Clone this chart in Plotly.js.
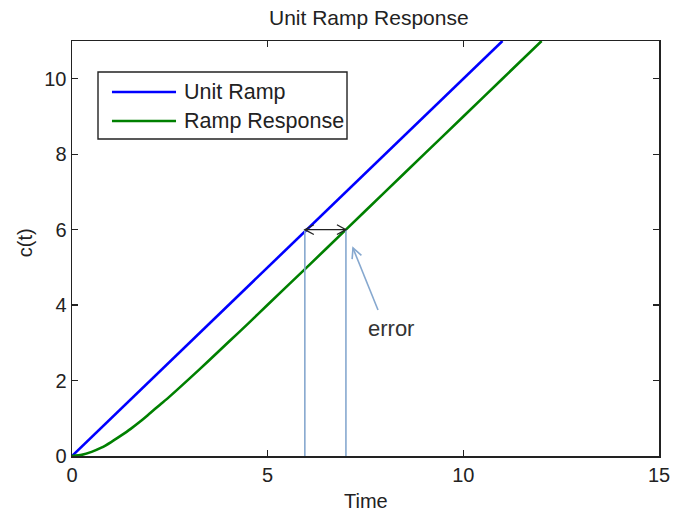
<!DOCTYPE html>
<html>
<head>
<meta charset="utf-8">
<script src="https://cdn.plot.ly/plotly-3.0.1.min.js"></script>
<style>
  html, body { margin: 0; padding: 0; background: #fff; }
  #chart { width: 673px; height: 515px; }
</style>
</head>
<body>
<div id="chart"></div>
<script>
// Unit ramp input r(t) = t
const rampTime = [0, 1, 2, 3, 4, 5, 6, 7, 8, 9, 10, 11];
const rampValue = [0, 1, 2, 3, 4, 5, 6, 7, 8, 9, 10, 11];

// Ramp response of the first-order system (lags the input by one time unit)
const respTime = [0, 0.25, 0.5, 0.75, 1, 1.25, 1.5, 1.75, 2, 2.25, 2.5, 3, 3.5, 4, 4.5, 5, 6, 7, 8, 9, 10, 11, 12];
const respValue = [0, 0.03, 0.11, 0.22, 0.37, 0.54, 0.72, 0.92, 1.14, 1.36, 1.58, 2.05, 2.53, 3.02, 3.51, 4.01, 5.0, 6.0, 7.0, 8.0, 9.0, 10.0, 11.0];

// Steady-state error marker: the two curves reach c = 6 at these times
const errorLevel = 6;
const errorTimes = [5.95, 7.0];

const seriesNames = ['Unit Ramp', 'Ramp Response'];
const seriesColors = ['#0000ff', '#008000'];

const FONT = 'Liberation Sans, Arial, Helvetica, sans-serif';
const guideColor = '#86a8cf';

const traces = [
  { x: rampTime, y: rampValue, name: seriesNames[0], mode: 'lines',
    line: { color: seriesColors[0], width: 2.6 }, hoverinfo: 'skip' },
  { x: respTime, y: respValue, name: seriesNames[1], mode: 'lines',
    line: { color: seriesColors[1], width: 2.6, shape: 'spline', smoothing: 0.6 }, hoverinfo: 'skip' }
];

const shapes = [];
// vertical guides dropped from each curve at the error level
errorTimes.forEach(t => {
  shapes.push({ type: 'line', xref: 'x', yref: 'y', x0: t, x1: t, y0: 0, y1: errorLevel,
    line: { color: guideColor, width: 1.6 } });
});
// double-headed horizontal arrow between the curves
const [tA, tB] = errorTimes;
shapes.push({ type: 'line', xref: 'x', yref: 'y', x0: tA, x1: tB, y0: errorLevel, y1: errorLevel,
  line: { color: '#222', width: 1.3 } });
shapes.push({ type: 'path', xref: 'x', yref: 'y',
  path: `M ${tA + 0.23},${errorLevel + 0.13} L ${tA},${errorLevel} L ${tA + 0.23},${errorLevel - 0.13}`,
  line: { color: '#222', width: 1.3 } });
shapes.push({ type: 'path', xref: 'x', yref: 'y',
  path: `M ${tB - 0.23},${errorLevel + 0.13} L ${tB},${errorLevel} L ${tB - 0.23},${errorLevel - 0.13}`,
  line: { color: '#222', width: 1.3 } });
// pointer from the "error" label to the response curve
shapes.push({ type: 'line', xref: 'x', yref: 'y', x0: 7.82, y0: 3.87, x1: 7.18, y1: 5.51,
  line: { color: guideColor, width: 1.6 } });
shapes.push({ type: 'path', xref: 'x', yref: 'y',
  path: 'M 7.396,5.317 L 7.181,5.513 L 7.158,5.218',
  line: { color: guideColor, width: 1.6 } });

// legend box drawn by hand so the sample lines are long
shapes.push({ type: 'rect', xref: 'paper', yref: 'paper', x0: 0.0443, x1: 0.4685, y0: 0.7639, y1: 0.9253,
  line: { color: '#222', width: 1.4 }, fillcolor: '#fff', layer: 'above' });
const legendRows = [0.8771, 0.8072];
legendRows.forEach((yy, i) => {
  shapes.push({ type: 'line', xref: 'paper', yref: 'paper', x0: 0.0681, x1: 0.1772, y0: yy, y1: yy,
    line: { color: seriesColors[i], width: 2.6 }, layer: 'above' });
});

const annotations = legendRows.map((yy, i) => ({
  xref: 'paper', yref: 'paper', x: 0.1874, y: yy, xanchor: 'left', yanchor: 'middle',
  text: seriesNames[i], showarrow: false, font: { family: FONT, size: 21.5, color: '#222' }
}));
annotations.push({ xref: 'x', yref: 'y', x: 8.15, y: 3.39, text: 'error', showarrow: false,
  xanchor: 'center', yanchor: 'middle', font: { family: FONT, size: 22, color: '#333' } });
annotations.push({ xref: 'paper', yref: 'paper', x: 0.5, y: -0.108, text: 'Time', showarrow: false,
  xanchor: 'center', yanchor: 'middle', font: { family: FONT, size: 20, color: '#222' } });
annotations.push({ xref: 'paper', yref: 'paper', x: -0.080, y: 0.513, text: 'c(t)', showarrow: false,
  textangle: -90, xanchor: 'center', yanchor: 'middle', font: { family: FONT, size: 20, color: '#222' } });

const axisCommon = {
  showgrid: false, zeroline: false, showline: true, linecolor: '#222', linewidth: 1.5,
  mirror: 'ticks', ticks: 'inside', ticklen: 6, tickwidth: 1.2, tickcolor: '#222',
  tickfont: { family: FONT, size: 20, color: '#222' }, fixedrange: true
};

const layout = {
  width: 673, height: 515,
  margin: { l: 72, r: 14, t: 41, b: 59, pad: 0 },
  paper_bgcolor: '#fff', plot_bgcolor: '#fff',
  showlegend: false,
  title: { text: 'Unit Ramp Response', x: 0.548, xanchor: 'center', y: 0.966, yanchor: 'middle',
    font: { family: FONT, size: 21, color: '#222' } },
  xaxis: Object.assign({}, axisCommon, { range: [0, 15], tickvals: [0, 5, 10, 15] }),
  yaxis: Object.assign({}, axisCommon, { range: [0, 11], tickvals: [0, 2, 4, 6, 8, 10] }),
  shapes: shapes,
  annotations: annotations
};

Plotly.newPlot('chart', traces, layout, { displayModeBar: false, staticPlot: true });
</script>
</body>
</html>
